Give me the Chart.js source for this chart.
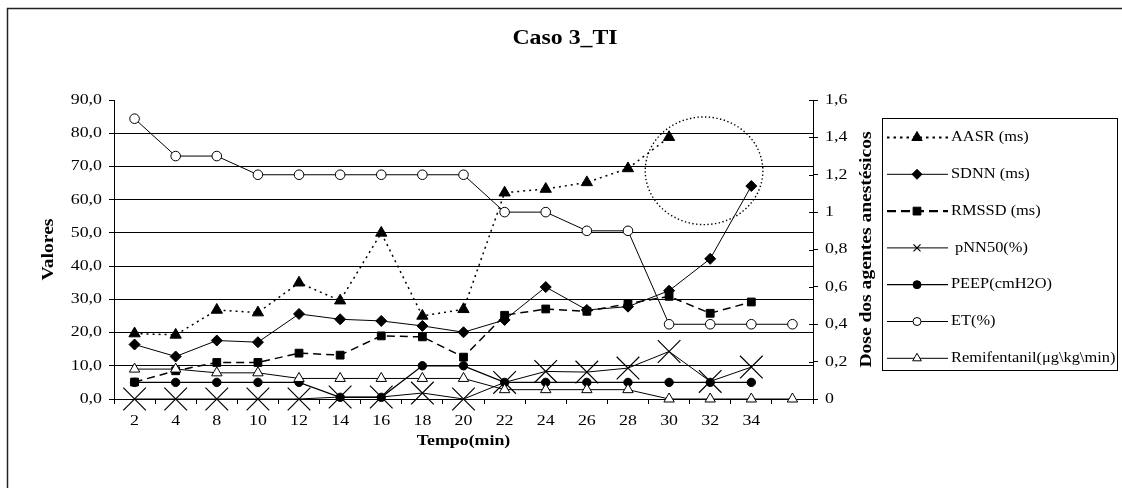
<!DOCTYPE html>
<html>
<head>
<meta charset="utf-8">
<script src="https://cdn.jsdelivr.net/npm/chart.js@4.4.1/dist/chart.umd.min.js"></script>
<style>
  html, body { margin: 0; padding: 0; background: #fff; }
  #wrap { width: 1122px; height: 488px; position: relative; }
</style>
</head>
<body>
<div id="wrap"><canvas id="c"></canvas></div>
<script>
// Time points (min); the last slot is an unlabeled extra step
const categories = ['2', '4', '8', '10', '12', '14', '16', '18', '20', '22', '24', '26', '28', '30', '32', '34', ''];

// Left axis series
const aasr  = [19.7, 19.3, 26.8, 26.0, 35.0, 29.6, 50.0, 25.0, 27.0, 62.1, 63.2, 65.2, 69.4, 78.8, null, null, null];
const sdnn  = [16.4, 12.8, 17.6, 17.1, 25.6, 24.0, 23.5, 22.0, 20.1, 23.8, 33.7, 26.8, 27.8, 32.6, 42.2, 64.1, null];
const rmssd = [5.1, 8.5, 11.0, 11.0, 13.8, 13.2, 19.0, 18.7, 12.6, 25.2, 27.1, 26.4, 28.7, 30.9, 25.8, 29.2, null];
const pnn50 = [0, 0, 0, 0, 0, 0.6, 0.6, 1.8, 0, 5.0, 8.3, 8.1, 9.3, 14.3, 5.3, 9.6, null];
const peep  = [5, 5, 5, 5, 5, 0.5, 0.5, 10, 10, 5, 5, 5, 5, 5, 5, 5, null];

// Right axis series (anesthetic doses)
const et    = [1.5, 1.3, 1.3, 1.2, 1.2, 1.2, 1.2, 1.2, 1.2, 1.0, 1.0, 0.9, 0.9, 0.4, 0.4, 0.4, 0.4];
const remi  = [0.16, 0.16, 0.14, 0.14, 0.11, 0.11, 0.11, 0.11, 0.11, 0.05, 0.05, 0.05, 0.05, 0, 0, 0, 0];

// Tick labels
const leftTickLabels  = ['0,0', '10,0', '20,0', '30,0', '40,0', '50,0', '60,0', '70,0', '80,0', '90,0'];
const rightTickLabels = ['0', '0,2', '0,4', '0,6', '0,8', '1', '1,2', '1,4', '1,6'];

// Series names
const seriesNames = ['AASR (ms)', 'SDNN (ms)', 'RMSSD (ms)', ' pNN50(%)', 'PEEP(cmH2O)', 'ET(%)', 'Remifentanil(\u03bcg\\kg\\min)'];

// Highlight ring around the final AASR/SDNN rise, in data units (category index, left-axis value)
const highlight = { cx: 13.85, cy: 68.7, rx: 1.43, ry: 16.2 };

const FONT = "'Liberation Serif', 'Times New Roman', serif";
const TEXT_SX = 1.19;

function drawText(ctx, text, x, y, o) {
  ctx.save();
  ctx.translate(x, y);
  if (o.rotate) ctx.rotate(o.rotate);
  ctx.scale(o.sx || TEXT_SX, 1);
  ctx.font = o.font;
  ctx.fillStyle = '#000';
  ctx.textAlign = o.align || 'center';
  ctx.textBaseline = o.baseline || 'middle';
  ctx.fillText(text, 0, 0);
  ctx.restore();
}

function lineSet(label, data, axis, style) {
  return Object.assign({
    label, data, yAxisID: axis,
    borderColor: '#000', borderWidth: 1, backgroundColor: '#000',
    pointBorderColor: '#000', pointBorderWidth: 1,
    tension: 0, spanGaps: false, clip: false
  }, style);
}

const datasets = [
  lineSet(seriesNames[0], aasr, 'y', { borderDash: [2, 4], borderWidth: 1.5, pointStyle: 'triangle', pointRadius: 6.5, pointBackgroundColor: '#000', order: 6, legendRadius: 6 }),
  lineSet(seriesNames[1], sdnn, 'y', { pointStyle: 'rectRot', pointRadius: 5.5, pointBackgroundColor: '#000', order: 5, legendRadius: 5 }),
  lineSet(seriesNames[2], rmssd, 'y', { borderDash: [8, 5], borderWidth: 1.5, pointStyle: 'rect', pointRadius: 5.5, pointBackgroundColor: '#000', order: 4, legendRadius: 5.5 }),
  lineSet(seriesNames[3], pnn50, 'y', { pointStyle: 'crossRot', pointRadius: 16, pointBorderWidth: 1.2, pointBackgroundColor: '#000', order: 3, legendRadius: 5 }),
  lineSet(seriesNames[4], peep, 'y', { borderWidth: 1.3, pointStyle: 'circle', pointRadius: 4.2, pointBackgroundColor: '#000', order: 2, legendRadius: 4 }),
  lineSet(seriesNames[5], et, 'y1', { pointStyle: 'circle', pointRadius: 4.8, pointBackgroundColor: '#fff', order: 1, legendRadius: 4 }),
  lineSet(seriesNames[6], remi, 'y1', { pointStyle: 'triangle', pointRadius: 6, pointBackgroundColor: '#fff', order: 0, legendRadius: 5 })
];

const decorations = {
  id: 'decorations',
  beforeDraw(chart) {
    const ctx = chart.ctx;
    ctx.save();
    ctx.fillStyle = '#fff';
    ctx.fillRect(0, 0, chart.width, chart.height);
    // outer frame
    ctx.strokeStyle = '#222';
    ctx.lineWidth = 1.5;
    ctx.strokeRect(7.5, 8.5, 1400, 800);
    ctx.restore();
  },
  afterDraw(chart) {
    const ctx = chart.ctx;
    const xs = chart.scales.x, yl = chart.scales.y, yr = chart.scales.y1;
    const area = chart.chartArea;

    // title
    drawText(ctx, 'Caso 3_TI', 565, 44, { font: 'bold 20px ' + FONT, baseline: 'alphabetic' });

    // tick labels
    xs.ticks.forEach((t, i) => {
      drawText(ctx, categories[i], xs.getPixelForTick(i), 421, { font: '15px ' + FONT });
    });
    yl.ticks.forEach((t, i) => {
      drawText(ctx, leftTickLabels[i], 102, yl.getPixelForTick(i), { font: '15px ' + FONT, align: 'right' });
    });
    yr.ticks.forEach((t, i) => {
      drawText(ctx, rightTickLabels[i], 825, yr.getPixelForTick(i), { font: '15px ' + FONT, align: 'left' });
    });

    // inner half of the right-axis tick marks
    ctx.save();
    ctx.strokeStyle = '#000';
    ctx.lineWidth = 1;
    yr.ticks.forEach((t, i) => {
      const y = Math.round(yr.getPixelForTick(i)) + 0.5;
      ctx.beginPath();
      ctx.moveTo(area.right - 4, y);
      ctx.lineTo(area.right, y);
      ctx.stroke();
    });
    ctx.restore();

    // axis titles
    const midY = (area.top + area.bottom) / 2;
    drawText(ctx, 'Valores', 49, midY, { font: 'bold 17px ' + FONT, rotate: -Math.PI / 2, sx: 1.15 });
    drawText(ctx, 'Dose dos agentes anestésicos', 867, midY, { font: 'bold 17px ' + FONT, rotate: -Math.PI / 2, sx: 1.15 });
    drawText(ctx, 'Tempo(min)', (area.left + area.right) / 2, 441, { font: 'bold 15px ' + FONT });

    // dotted highlight ring
    const cx = xs.getPixelForValue(highlight.cx);
    const cy = yl.getPixelForValue(highlight.cy);
    const rx = Math.abs(xs.getPixelForValue(highlight.cx + highlight.rx) - cx);
    const ry = Math.abs(yl.getPixelForValue(highlight.cy + highlight.ry) - cy);
    ctx.save();
    ctx.strokeStyle = '#000';
    ctx.lineWidth = 1.4;
    ctx.setLineDash([1.4, 2.4]);
    ctx.beginPath();
    ctx.ellipse(cx, cy, rx, ry, 0, 0, Math.PI * 2);
    ctx.stroke();
    ctx.restore();

    // legend
    ctx.save();
    ctx.strokeStyle = '#000';
    ctx.lineWidth = 1;
    ctx.strokeRect(882.5, 118.5, 235, 252);
    chart.data.datasets.forEach((ds, i) => {
      const y = 137.5 + i * 36.8;
      ctx.save();
      ctx.strokeStyle = '#000';
      ctx.lineWidth = (ds.borderDash ? ds.borderWidth + 0.6 : ds.borderWidth);
      ctx.setLineDash(ds.borderDash ? (i === 0 ? [2.5, 4] : [9, 5]) : []);
      ctx.beginPath();
      ctx.moveTo(887, y);
      ctx.lineTo(948, y);
      ctx.stroke();
      ctx.setLineDash([]);
      ctx.fillStyle = ds.pointBackgroundColor;
      ctx.strokeStyle = '#000';
      ctx.lineWidth = ds.pointBorderWidth;
      Chart.helpers.drawPoint(ctx, { pointStyle: ds.pointStyle, radius: ds.legendRadius, rotation: 0, borderWidth: ds.pointBorderWidth }, 917, y);
      ctx.restore();
      drawText(ctx, ds.label, 951, y, { font: '14px ' + FONT, align: 'left', sx: 1.17 });
    });
    ctx.restore();
  }
};

new Chart(document.getElementById('c'), {
  type: 'line',
  data: { labels: categories, datasets },
  plugins: [decorations],
  options: {
    responsive: true,
    maintainAspectRatio: false,
    animation: false,
    devicePixelRatio: 1,
    layout: { padding: { top: 100, left: 0, right: 0, bottom: 0 } },
    plugins: { legend: { display: false }, title: { display: false }, tooltip: { enabled: false } },
    scales: {
      x: {
        type: 'category',
        offset: true,
        afterFit(s) { s.height = 89; },
        grid: { display: true, drawOnChartArea: false, offset: true, tickLength: 5, color: '#000', tickColor: '#000' },
        border: { display: true, color: '#000', width: 1 },
        ticks: { display: false, autoSkip: false }
      },
      y: {
        position: 'left',
        min: 0, max: 90,
        afterFit(s) { s.width = 114; },
        ticks: { display: false, stepSize: 10 },
        grid: {
          drawOnChartArea: true, tickLength: 5, tickColor: '#000',
          color: (c) => (c.tick && (c.tick.value === 90 || c.tick.value === 0)) ? 'rgba(0,0,0,0)' : '#000'
        },
        border: { display: true, color: '#000', width: 1 }
      },
      y1: {
        position: 'right',
        min: 0, max: 1.6,
        afterFit(s) { s.width = 1122 - 813; },
        ticks: { display: false, stepSize: 0.2 },
        grid: { drawOnChartArea: false, tickLength: 5, color: '#000', tickColor: '#000' },
        border: { display: true, color: '#000', width: 1 }
      }
    }
  }
});
</script>
</body>
</html>
